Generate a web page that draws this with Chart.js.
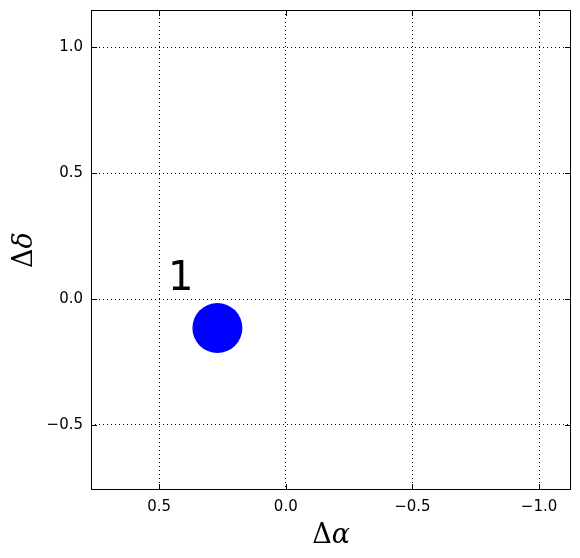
<!DOCTYPE html>
<html>
<head>
<meta charset="utf-8">
<script src="https://cdn.jsdelivr.net/npm/chart.js@4"></script>
<style>
  html, body { margin: 0; padding: 0; background: #fff; }
  #wrap { width: 580px; height: 558px; }
</style>
</head>
<body>
<div id="wrap"><canvas id="c" width="580" height="558"></canvas></div>
<script>
// data
const pointX = [0.27];
const pointY = [-0.115];
const pointLabels = ['1'];
const xTicks = [0.5, 0.0, -0.5, -1.0];
const yTicks = [-0.5, 0.0, 0.5, 1.0];
const xRange = [-1.126, 0.769];
const yRange = [-0.758, 1.147];

function fmt(v) {
    const s = Math.abs(v).toFixed(1);
    return v < 0 ? '\u2212' + s : s;
}

// frame, inner ticks, axis titles and point label
const decor = {
    id: 'decor',
    afterDraw(chart) {
        const { ctx, chartArea: a, scales } = chart;
        const xs = scales.x, ys = scales.y;
        ctx.save();
        ctx.strokeStyle = '#000';
        ctx.lineWidth = 1;
        ctx.beginPath();
        xTicks.forEach(v => {
            const px = Math.round(xs.getPixelForValue(v)) + 0.5;
            ctx.moveTo(px, a.bottom); ctx.lineTo(px, a.bottom - 6);
            ctx.moveTo(px, a.top); ctx.lineTo(px, a.top + 6);
        });
        yTicks.forEach(v => {
            const py = Math.round(ys.getPixelForValue(v)) + 0.5;
            ctx.moveTo(a.left, py); ctx.lineTo(a.left + 6, py);
            ctx.moveTo(a.right, py); ctx.lineTo(a.right - 6, py);
        });
        ctx.stroke();
        ctx.strokeRect(a.left + 0.5, a.top + 0.5, a.right - a.left - 1, a.bottom - a.top - 1);

        // point labels
        ctx.fillStyle = '#000';
        ctx.font = '40px "DejaVu Sans"';
        ctx.textAlign = 'left';
        ctx.textBaseline = 'alphabetic';
        pointLabels.forEach((t, i) => {
            ctx.fillText(t, xs.getPixelForValue(pointX[i] + 0.195), ys.getPixelForValue(pointY[i] + 0.15));
        });

        // axis titles, mathtext style
        function mathLabel(sym, x, y) {
            ctx.font = '27px "DejaVu Serif"';
            const w1 = ctx.measureText('\u0394').width;
            ctx.font = 'italic 27px "DejaVu Serif"';
            const w2 = ctx.measureText(sym).width;
            let sx = x - (w1 + w2) / 2;
            ctx.textAlign = 'left';
            ctx.textBaseline = 'alphabetic';
            ctx.font = '27px "DejaVu Serif"';
            ctx.fillText('\u0394', sx, y);
            ctx.font = 'italic 27px "DejaVu Serif"';
            ctx.fillText(sym, sx + w1, y);
        }
        mathLabel('\u03b1', (a.left + a.right) / 2, 543);
        ctx.translate(32, (a.top + a.bottom) / 2);
        ctx.rotate(-Math.PI / 2);
        mathLabel('\u03b4', 0, 0);
        ctx.restore();
    }
};

new Chart(document.getElementById('c'), {
    type: 'scatter',
    data: {
        datasets: [{
            data: pointX.map((x, i) => ({ x: x, y: pointY[i] })),
            backgroundColor: '#0000ff',
            borderWidth: 0,
            pointRadius: 25,
            pointHoverRadius: 25
        }]
    },
    options: {
        responsive: false,
        animation: false,
        events: [],
        layout: { autoPadding: false, padding: { top: 10, right: 9, left: 0, bottom: 0 } },
        plugins: { legend: { display: false }, tooltip: { enabled: false } },
        scales: {
            x: {
                type: 'linear',
                reverse: true,
                min: xRange[0],
                max: xRange[1],
                afterBuildTicks: s => { s.ticks = xTicks.map(v => ({ value: v })); },
                afterFit: s => { s.height = 68; s.paddingLeft = 0; s.paddingRight = 0; },
                grid: { color: '#000', lineWidth: 1, drawTicks: false },
                border: { display: false, dash: [1, 3] },
                ticks: {
                    padding: 8,
                    color: '#000',
                    font: { family: 'DejaVu Sans', size: 15 },
                    callback: v => fmt(v),
                    maxRotation: 0
                }
            },
            y: {
                type: 'linear',
                min: yRange[0],
                max: yRange[1],
                afterBuildTicks: s => { s.ticks = yTicks.map(v => ({ value: v })); },
                afterFit: s => { s.width = 91; s.paddingTop = 0; s.paddingBottom = 0; },
                grid: { color: '#000', lineWidth: 1, drawTicks: false },
                border: { display: false, dash: [1, 3] },
                ticks: {
                    padding: 8,
                    color: '#000',
                    font: { family: 'DejaVu Sans', size: 15 },
                    callback: v => fmt(v)
                }
            }
        }
    },
    plugins: [decor]
});
</script>
</body>
</html>
